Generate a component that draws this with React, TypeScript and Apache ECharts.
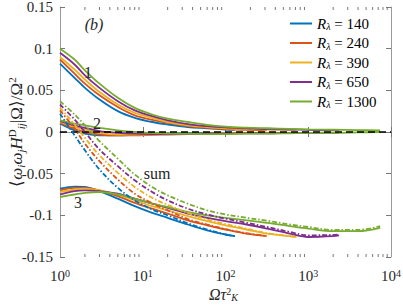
import React, { useEffect, useRef } from "react";
import * as echarts from "echarts";

const FONT = "'Liberation Serif', 'Times New Roman', serif";
const COLORS = ["#0072BD", "#D95319", "#EDB120", "#7E2F8E", "#77AC30"];
const R_VALUES = ["140", "240", "390", "650", "1300"];
const X_TICK_EXPONENTS = [0, 1, 2, 3, 4];
const Y_MIN = -0.15;
const Y_MAX = 0.15;
const Y_STEP = 0.05;

// Ωτ_K^2 sample points for each Reynolds number
const X140 = [1, 1.5, 2, 3, 5, 8, 13, 20, 35, 60, 100, 130];
const X240 = [1, 1.5, 2, 3, 5, 8, 13, 20, 35, 60, 100, 180, 315];
const X390 = [1, 1.5, 2, 3, 5, 8, 13, 20, 35, 60, 100, 180, 320, 600, 720];
const X650 = [1, 1.5, 2, 3, 5, 8, 13, 20, 35, 60, 100, 180, 320, 600, 1000, 2000, 2350];
const X1300 = [1, 1.5, 2, 3, 5, 8, 13, 20, 35, 60, 100, 180, 320, 600, 1000, 2000, 4000, 7400];

// term 1
const T1_140 = [0.082, 0.065, 0.053, 0.039, 0.025, 0.017, 0.012, 0.009, 0.006, 0.0045, 0.003, 0.0025];
const T1_240 = [0.087, 0.07, 0.058, 0.044, 0.03, 0.02, 0.0145, 0.011, 0.007, 0.005, 0.0035, 0.0025, 0.002];
const T1_390 = [0.09, 0.075, 0.063, 0.048, 0.033, 0.023, 0.017, 0.012, 0.008, 0.006, 0.0045, 0.0035, 0.003, 0.0025, 0.0025];
const T1_650 = [0.095, 0.081, 0.068, 0.053, 0.037, 0.026, 0.019, 0.014, 0.0095, 0.007, 0.0055, 0.0045, 0.0035, 0.003, 0.0025, 0.002, 0.002];
const T1_1300 = [0.1, 0.087, 0.074, 0.058, 0.041, 0.029, 0.021, 0.016, 0.012, 0.0085, 0.0064, 0.0052, 0.0045, 0.0038, 0.0032, 0.0027, 0.0023, 0.002];

// term 2
const T2_140 = [0.01, 0.002, -0.002, -0.004, -0.004, -0.0035, -0.003, -0.002, -0.0015, -0.001, -0.001, -0.001];
const T2_240 = [0.011, 0.004, 0.0, -0.003, -0.004, -0.004, -0.0035, -0.003, -0.0025, -0.002, -0.0015, -0.001, -0.001];
const T2_390 = [0.012, 0.006, 0.003, -0.001, -0.003, -0.003, -0.003, -0.0025, -0.002, -0.002, -0.0015, -0.001, -0.001, -0.001, -0.001];
const T2_650 = [0.013, 0.008, 0.005, 0.001, -0.001, -0.002, -0.0025, -0.0025, -0.002, -0.002, -0.002, -0.0015, -0.0015, -0.001, -0.001, -0.001, -0.001];
const T2_1300 = [0.014, 0.01, 0.008, 0.005, 0.002, 0.0, -0.001, -0.002, -0.002, -0.0025, -0.0025, -0.002, -0.002, -0.0015, -0.001, -0.001, -0.0005, 0.0];

// term 3
const T3_140 = [-0.068, -0.0655, -0.066, -0.071, -0.08, -0.089, -0.097, -0.103, -0.111, -0.118, -0.123, -0.125];
const T3_240 = [-0.07, -0.067, -0.067, -0.07, -0.077, -0.085, -0.092, -0.098, -0.106, -0.112, -0.117, -0.122, -0.125];
const T3_390 = [-0.072, -0.069, -0.068, -0.07, -0.075, -0.082, -0.089, -0.094, -0.101, -0.107, -0.112, -0.117, -0.122, -0.125, -0.126];
const T3_650 = [-0.075, -0.071, -0.07, -0.071, -0.074, -0.08, -0.086, -0.091, -0.098, -0.103, -0.107, -0.111, -0.116, -0.122, -0.126, -0.125, -0.124];
const T3_1300 = [-0.078, -0.075, -0.073, -0.072, -0.075, -0.08, -0.086, -0.09, -0.096, -0.1, -0.103, -0.106, -0.109, -0.113, -0.116, -0.119, -0.119, -0.115];

// sum
const SUM_140 = [0.022, -0.004, -0.022, -0.045, -0.067, -0.082, -0.093, -0.1, -0.1095, -0.117, -0.123, -0.125];
const SUM_240 = [0.026, 0.004, -0.014, -0.035, -0.057, -0.074, -0.0855, -0.094, -0.1045, -0.111, -0.1165, -0.1215, -0.125];
const SUM_390 = [0.029, 0.009, -0.007, -0.028, -0.049, -0.066, -0.079, -0.0875, -0.097, -0.105, -0.1105, -0.116, -0.1215, -0.125, -0.126];
const SUM_650 = [0.033, 0.015, 0.0, -0.021, -0.041, -0.058, -0.072, -0.082, -0.092, -0.099, -0.104, -0.109, -0.114, -0.12, -0.124, -0.1235, -0.123];
const SUM_1300 = [0.037, 0.021, 0.008, -0.011, -0.032, -0.051, -0.066, -0.076, -0.086, -0.094, -0.099, -0.103, -0.1065, -0.111, -0.114, -0.1175, -0.1175, -0.113];

const XS = [X140, X240, X390, X650, X1300];
const TERM1 = [T1_140, T1_240, T1_390, T1_650, T1_1300];
const TERM2 = [T2_140, T2_240, T2_390, T2_650, T2_1300];
const TERM3 = [T3_140, T3_240, T3_390, T3_650, T3_1300];
const SUMS = [SUM_140, SUM_240, SUM_390, SUM_650, SUM_1300];

const ZERO_LINE_X = [1, 10000];

const ANNOTATIONS = [
  { text: "(b)", x: 94, y: 24, italic: true },
  { text: "1", x: 88, y: 72, italic: false },
  { text: "2", x: 97, y: 123, italic: false },
  { text: "sum", x: 157, y: 173, italic: false },
  { text: "3", x: 78, y: 202, italic: false },
];

const Y_NAME = "{t|⟨}{i|ω}{s|i}{i|ω}{s|j}{i|H}{p|D}{s|ij}{t||Ω⟩/Ω}{p|2}";
const X_NAME = "{a|Ωτ}{p|2}{s|K}";

const legendName = (r: string) => `R${r}`;

export default function App() {
  const ref = useRef<HTMLDivElement>(null);
  useEffect(() => {
    document.body.style.margin = "0";
    const chart = echarts.init(ref.current!, null, { renderer: "svg" });

    const series: any[] = [];
    const mk = (name: string, i: number, ys: number[], dashed: boolean, z: number) => ({
      type: "line",
      name,
      data: XS[i].map((x, k) => [x, ys[k]]),
      symbol: "none",
      showSymbol: false,
      smooth: 0.35,
      z,
      lineStyle: {
        color: COLORS[i],
        width: 1.8,
        type: dashed ? [5, 2, 1.5, 2] : "solid",
      },
      itemStyle: { color: COLORS[i] },
      emphasis: { disabled: true },
    });
    for (let i = 0; i < 5; i++) series.push(mk(legendName(R_VALUES[i]), i, TERM1[i], false, 2));
    for (let i = 0; i < 5; i++) series.push(mk(`t2-${i}`, i, TERM2[i], false, 2));
    series.push({
      type: "line",
      name: "zero",
      data: ZERO_LINE_X.map((x) => [x, 0]),
      symbol: "none",
      z: 3,
      lineStyle: { color: "#000", width: 1.4, type: [7, 4] },
      emphasis: { disabled: true },
    });
    for (let i = 0; i < 5; i++) series.push(mk(`t3-${i}`, i, TERM3[i], false, 4));
    for (let i = 0; i < 5; i++) series.push(mk(`sum-${i}`, i, SUMS[i], true, 5));

    const axisColor = "#9a9a9a";
    const labelColor = "#262626";

    const xBase = {
      type: "log",
      logBase: 10,
      min: 1,
      max: 10000,
      splitLine: { show: false },
      axisLine: { show: true, lineStyle: { color: axisColor, width: 1 } },
      axisTick: { show: true, inside: true, length: 5, lineStyle: { color: "#777" } },
    };
    const yBase = {
      type: "value",
      min: Y_MIN,
      max: Y_MAX,
      interval: Y_STEP,
      splitLine: { show: false },
      axisLine: { show: true, lineStyle: { color: axisColor, width: 1 } },
      axisTick: { show: true, inside: true, length: 5, lineStyle: { color: "#777" } },
    };

    chart.setOption({
      animation: false,
      grid: { left: 60, right: 12, top: 7, bottom: 48, containLabel: false, outerBoundsMode: "none" },
      legend: {
        data: R_VALUES.map(legendName),
        orient: "vertical",
        left: 285,
        top: 11,
        itemWidth: 22,
        itemHeight: 14,
        itemGap: 4,
        icon: "path://M0,0 L22,0 L22,2 L0,2 Z",
        selectedMode: false,
        formatter: (name: string) => `{i|R}{s|λ}{n| = ${name.slice(1)}}`,
        textStyle: {
          fontFamily: FONT,
          fontSize: 14,
          color: "#000",
          rich: {
            i: { fontFamily: FONT, fontSize: 15, fontStyle: "italic", color: "#000", lineHeight: 16 },
            s: { fontFamily: FONT, fontSize: 10, fontStyle: "italic", color: "#000", verticalAlign: "bottom", lineHeight: 12 },
            n: { fontFamily: FONT, fontSize: 15, color: "#000", lineHeight: 16 },
          },
        },
      },
      xAxis: [
        {
          ...xBase,
          position: "bottom",
          axisLabel: {
            show: true,
            margin: 11,
            color: labelColor,
            fontFamily: FONT,
            fontSize: 14,
            formatter: (v: number) => `{b|10}{p|${Math.round(Math.log10(v))}}`,
            rich: {
              b: { fontFamily: FONT, fontSize: 15, color: labelColor, lineHeight: 16 },
              p: { fontFamily: FONT, fontSize: 10, color: labelColor, verticalAlign: "top", lineHeight: 10 },
            },
          },
        },
        { ...xBase, position: "top", axisLabel: { show: false } },
      ],
      yAxis: [
        {
          ...yBase,
          position: "left",
          axisLabel: {
            show: true,
            margin: 7,
            color: labelColor,
            fontFamily: FONT,
            fontSize: 15,
            formatter: (v: number) => (Math.abs(v) < 1e-9 ? "0" : String(Math.round(v * 100) / 100)),
          },
        },
        { ...yBase, position: "right", axisLabel: { show: false } },
      ],
      series,
    });

    // minor ticks for the log axis, placed with the axis scale
    const graphics: any[] = [];
    const yBottom = chart.convertToPixel({ yAxisIndex: 0 }, Y_MIN) as number;
    const yTop = chart.convertToPixel({ yAxisIndex: 0 }, Y_MAX) as number;
    const yMid = chart.convertToPixel({ yAxisIndex: 0 }, 0) as number;
    const xMid = chart.convertToPixel({ xAxisIndex: 0 }, 100) as number;
    for (let e = 0; e < X_TICK_EXPONENTS.length - 1; e++) {
      for (let m = 2; m <= 9; m++) {
        const px = chart.convertToPixel({ xAxisIndex: 0 }, m * Math.pow(10, X_TICK_EXPONENTS[e])) as number;
        graphics.push({
          type: "line",
          shape: { x1: px, y1: yBottom, x2: px, y2: yBottom - 3 },
          style: { stroke: "#777", lineWidth: 1 },
          silent: true,
        });
        graphics.push({
          type: "line",
          shape: { x1: px, y1: yTop, x2: px, y2: yTop + 3 },
          style: { stroke: "#777", lineWidth: 1 },
          silent: true,
        });
      }
    }
    ANNOTATIONS.forEach((a) => {
      graphics.push({
        type: "text",
        x: a.x,
        y: a.y,
        z: 100,
        style: {
          text: a.text,
          fill: "#262626",
          font: `${a.italic ? "italic " : ""}16px ${FONT}`,
          align: "center",
          verticalAlign: "middle",
        },
      });
    });
    graphics.push({
      type: "text",
      x: 16,
      y: yMid,
      rotation: Math.PI / 2,
      z: 100,
      style: {
        text: Y_NAME,
        fill: labelColor,
        align: "center",
        verticalAlign: "middle",
        rich: {
          t: { fontFamily: FONT, fontSize: 17, fill: labelColor, lineHeight: 20 },
          i: { fontFamily: FONT, fontSize: 17, fill: labelColor, fontStyle: "italic", lineHeight: 20 },
          s: { fontFamily: FONT, fontSize: 11, fill: labelColor, fontStyle: "italic", verticalAlign: "bottom", lineHeight: 12 },
          p: { fontFamily: FONT, fontSize: 11, fill: labelColor, verticalAlign: "top", lineHeight: 12 },
        },
      },
    });
    graphics.push({
      type: "text",
      x: xMid - 2,
      y: 294,
      z: 100,
      style: {
        text: X_NAME,
        fill: labelColor,
        align: "center",
        verticalAlign: "middle",
        rich: {
          a: { fontFamily: FONT, fontSize: 16, fill: labelColor, fontStyle: "italic", lineHeight: 16 },
          p: { fontFamily: FONT, fontSize: 10, fill: labelColor, verticalAlign: "top", lineHeight: 10 },
          s: { fontFamily: FONT, fontSize: 10, fill: labelColor, fontStyle: "italic", verticalAlign: "bottom", lineHeight: 10 },
        },
      },
    });
    chart.setOption({ graphic: graphics });

    return () => chart.dispose();
  }, []);
  return <div ref={ref} style={{ width: 403, height: 305 }} />;
}
